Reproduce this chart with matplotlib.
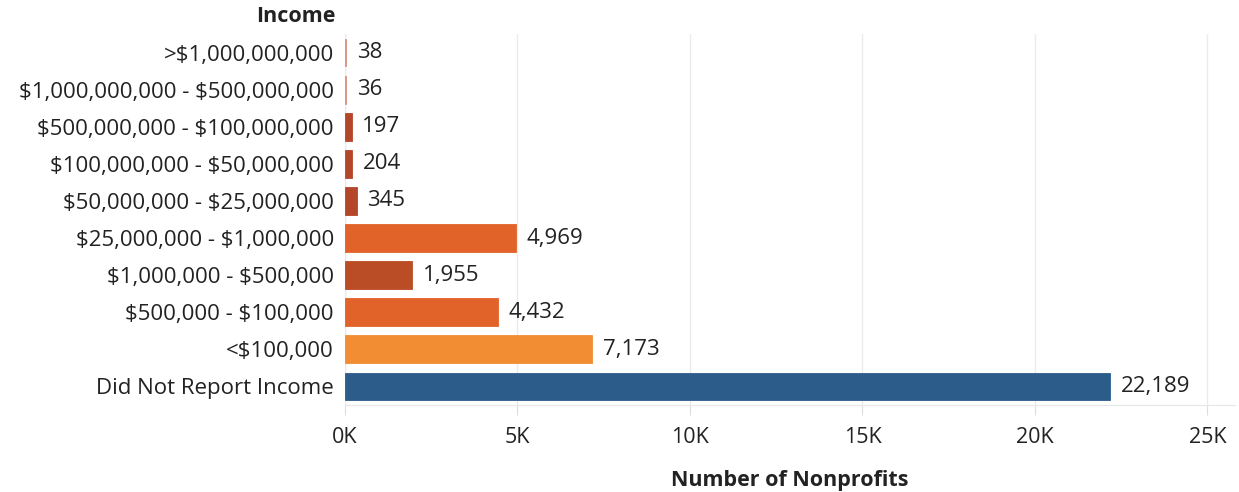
import matplotlib.pyplot as plt
from matplotlib.ticker import FuncFormatter

plt.rcParams['font.family'] = ['Open Sans', 'DejaVu Sans']
plt.rcParams['text.parse_math'] = False

# data (top to bottom)
categories = [">$1,000,000,000", "$1,000,000,000 - $500,000,000",
              "$500,000,000 - $100,000,000", "$100,000,000 - $50,000,000",
              "$50,000,000 - $25,000,000", "$25,000,000 - $1,000,000",
              "$1,000,000 - $500,000", "$500,000 - $100,000",
              "<$100,000", "Did Not Report Income"]
counts = [38, 36, 197, 204, 345, 4969, 1955, 4432, 7173, 22189]
colors = ['#d8907c', '#d8907c', '#b4472a', '#b4472a', '#b4472a',
          '#e2632a', '#ba4c26', '#e2632a', '#f28d33', '#2c5c8a']

fig = plt.figure(figsize=(12.39, 4.92), dpi=100)
ax = fig.add_axes([345 / 1239, 87 / 492, 890 / 1239, 371 / 492])

y = list(range(len(categories)))
ax.barh(y, counts, height=0.75, color=colors, edgecolor=colors, linewidth=0.6, zorder=3)
for yi, v in zip(y, counts):
    ax.text(v + 300, yi, f"{v:,}", va='center', ha='left', fontsize=16, color='#222222')

ax.set_ylim(len(categories) - 0.5, -0.5)
ax.set_yticks(y)
ax.set_yticklabels(categories, fontsize=16, color='#222222')
ax.tick_params(axis='y', length=0, pad=8)

ax.set_xlim(0, 25800)
ax.set_xticks([0, 5000, 10000, 15000, 20000, 25000])
ax.xaxis.set_major_formatter(FuncFormatter(lambda v, p: f"{int(v / 1000)}K"))
ax.tick_params(axis='x', labelsize=15.5, colors='#dddddd', labelcolor='#222222', length=7, pad=9)
ax.grid(axis='x', color='#ebebeb', linewidth=1, zorder=0)

for s in ['top', 'right', 'left']:
    ax.spines[s].set_visible(False)
ax.spines['bottom'].set_color('#e6e6e6')
ax.axvline(0, color='#e6e6e6', linewidth=1, zorder=1)

ax.set_xlabel('Number of Nonprofits', fontsize=15.5, fontweight='bold', labelpad=16, color='#222222')
fig.text(335 / 1239, 1 - 17 / 492, 'Income', ha='right', va='center', fontsize=15.5,
         fontweight='bold', color='#222222')

fig.savefig('out.png', dpi=100)
